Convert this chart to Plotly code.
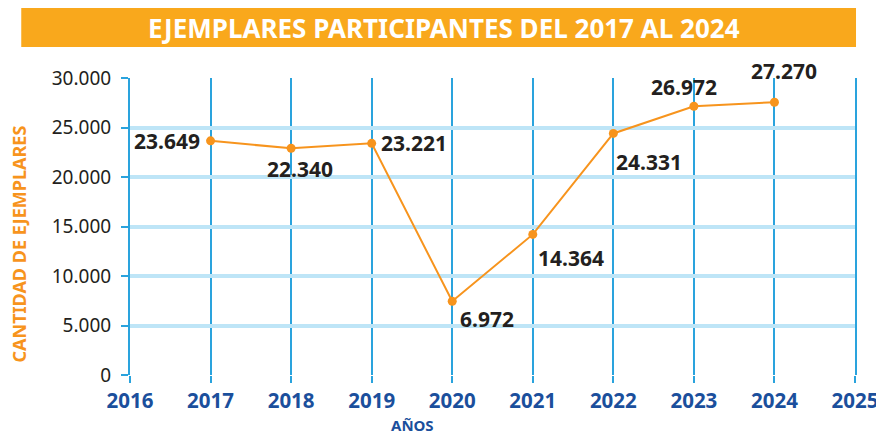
import plotly.graph_objects as go

# --- data ---
years = [2017, 2018, 2019, 2020, 2021, 2022, 2023, 2024]
ejemplares = [23649, 22900, 23400, 7450, 14200, 24400, 27150, 27550]
etiquetas = ["23.649", "22.340", "23.221", "6.972", "14.364", "24.331", "26.972", "27.270"]
x_ticks = [2016, 2017, 2018, 2019, 2020, 2021, 2022, 2023, 2024, 2025]
y_ticks = [0, 5000, 10000, 15000, 20000, 25000, 30000]

# label placement per point (xanchor, yanchor, xshift, yshift)
label_pos = [
    ("right", "middle", -9, 0),
    ("center", "top", 9, -5),
    ("left", "middle", 7, 0),
    ("left", "top", 6, -2),
    ("left", "top", 3, -8),
    ("left", "top", 1, -13),
    ("center", "bottom", -10, 3),
    ("center", "bottom", 10, 15),
]

ORANGE = "#F7941D"
DARK_BLUE = "#1B4F9C"
GRID_V = "#2AA3DD"
GRID_H = "#BEE5F7"
FONT = "Noto Sans"

fig = go.Figure()
fig.add_trace(go.Scatter(
    x=years, y=ejemplares, mode="lines+markers",
    line=dict(color=ORANGE, width=2),
    marker=dict(color=ORANGE, size=9),
    hoverinfo="skip", showlegend=False,
))

for yr, val, txt, (xa, ya, xs, ys) in zip(years, ejemplares, etiquetas, label_pos):
    fig.add_annotation(
        x=yr, y=val, text=f"<b>{txt}</b>", showarrow=False,
        xanchor=xa, yanchor=ya, xshift=xs, yshift=ys,
        font=dict(family=FONT, size=21, color="#231F20"),
    )

# title banner
fig.add_shape(type="rect", xref="paper", yref="paper",
              x0=-0.150, x1=1.0014, y0=1.104, y1=1.236,
              fillcolor="#F9A81C", line=dict(width=0), layer="below")
fig.add_annotation(
    xref="paper", yref="paper", x=0.433, y=1.170,
    text="<b>EJEMPLARES PARTICIPANTES DEL 2017 AL 2024</b>",
    showarrow=False, xanchor="center", yanchor="middle",
    font=dict(family=FONT, size=26, color="white"),
)

# axis titles
fig.add_annotation(
    xref="paper", yref="paper", x=-0.1525, y=0.441,
    text="<b>CANTIDAD DE EJEMPLARES</b>", textangle=-90,
    showarrow=False, xanchor="center", yanchor="middle",
    font=dict(family=FONT, size=18, color=ORANGE),
)
fig.add_annotation(
    xref="paper", yref="paper", x=0.389, y=-0.168,
    text="<b>AÑOS</b>", showarrow=False, xanchor="center", yanchor="middle",
    font=dict(family=FONT, size=15, color=DARK_BLUE),
)

fig.update_layout(
    width=884, height=434,
    margin=dict(l=122, r=37, t=70, b=67),
    paper_bgcolor="white", plot_bgcolor="white",
    separators=",.",
    xaxis=dict(
        range=[2016, 2025], tickvals=x_ticks, ticktext=[str(t) for t in x_ticks],
        showgrid=True, gridcolor=GRID_V, gridwidth=2,
        zeroline=False, showline=False,
        ticks="outside", ticklen=7, tickwidth=2, tickcolor=GRID_V,
        tickfont=dict(family=FONT, size=20.5, color=DARK_BLUE, weight="bold"),
    ),
    yaxis=dict(
        range=[0, 30000], tickvals=y_ticks, tickformat=",d",
        showgrid=True, gridcolor=GRID_H, gridwidth=4,
        zeroline=False, showline=True, linecolor=GRID_V, linewidth=2, mirror=True,
        ticks="outside", ticklen=7, tickwidth=2, tickcolor=GRID_V,
        ticklabelstandoff=6,
        tickfont=dict(family=FONT, size=19, color="#231F20"),
    ),
)

fig.write_html("out.html")
